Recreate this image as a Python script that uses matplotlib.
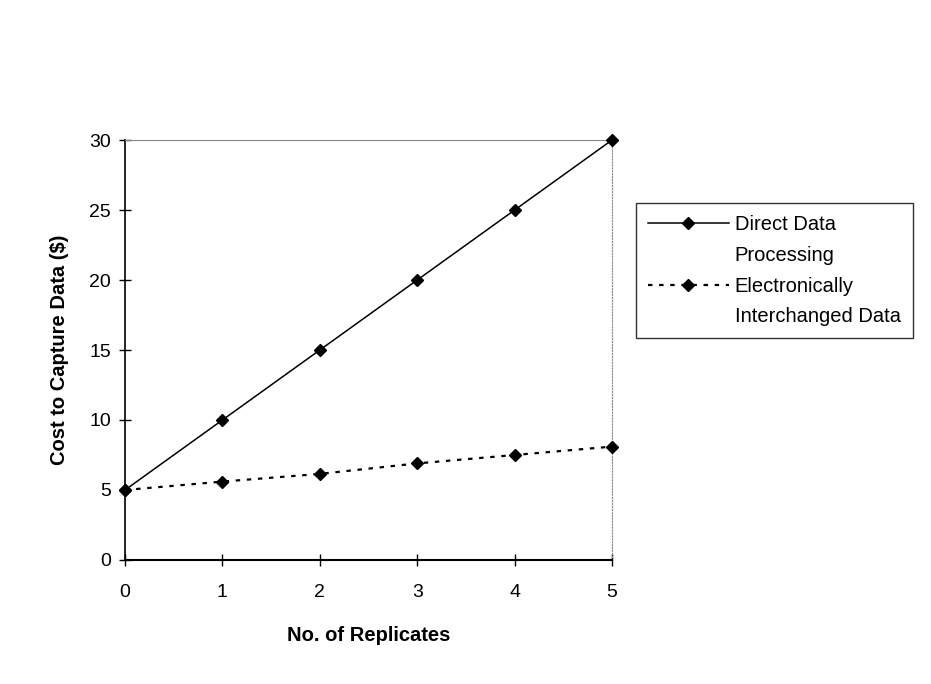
import matplotlib.pyplot as plt
from matplotlib.lines import Line2D
import numpy as np

plt.rcParams['font.family'] = ['Liberation Sans', 'DejaVu Sans']

replicates = np.array([0, 1, 2, 3, 4, 5])
direct = np.array([5, 10, 15, 20, 25, 30])
electronic = np.array([5.0, 5.6, 6.15, 6.9, 7.5, 8.1])

fig = plt.figure(figsize=(9.31, 6.84), dpi=100)
ax = fig.add_axes([0.1343, 0.1813, 0.5231, 0.6140])

l1, = ax.plot(replicates, direct, '-', color='black', lw=1.1, marker='D', markersize=6.5,
              clip_on=False, zorder=3)
l2, = ax.plot(replicates, electronic, linestyle=(0, (2, 3)), color='black', lw=1.6,
              marker='D', markersize=6.5, clip_on=False, zorder=3)

ax.set_xlim(0, 5)
ax.set_ylim(0, 30)
ax.set_xticks(replicates)
ax.set_yticks([0, 5, 10, 15, 20, 25, 30])
ax.tick_params(direction='inout', length=8, width=1, labelsize=14)
ax.tick_params(axis='x', pad=13)
ax.tick_params(axis='y', pad=6)

ax.spines['left'].set_linewidth(1.2)
ax.spines['bottom'].set_linewidth(1.5)
ax.spines['top'].set_color('#888888')
ax.spines['top'].set_linewidth(0.8)
ax.spines['right'].set_color('#888888')
ax.spines['right'].set_linestyle(':')
ax.spines['right'].set_linewidth(0.8)

ax.set_xlabel('No. of Replicates', fontsize=14.5, fontweight='bold', labelpad=18)
ax.set_ylabel('Cost to Capture Data ($)', fontsize=14.5, fontweight='bold', labelpad=15)

# legend: handle on first line of each two-line label
blank = Line2D([], [], linestyle='none')
leg = fig.legend(handles=[l1, blank, l2, blank],
                 labels=['Direct Data', 'Processing', 'Electronically', 'Interchanged Data'],
                 loc='upper left', bbox_to_anchor=(0.683, 0.703), fontsize=14.5,
                 frameon=True, fancybox=False, edgecolor='black', handlelength=4.0,
                 handletextpad=0.3, borderpad=0.6, labelspacing=0.58,
                 borderaxespad=0)
leg.get_frame().set_linewidth(1.0)

fig.savefig('out.png', dpi=100)
